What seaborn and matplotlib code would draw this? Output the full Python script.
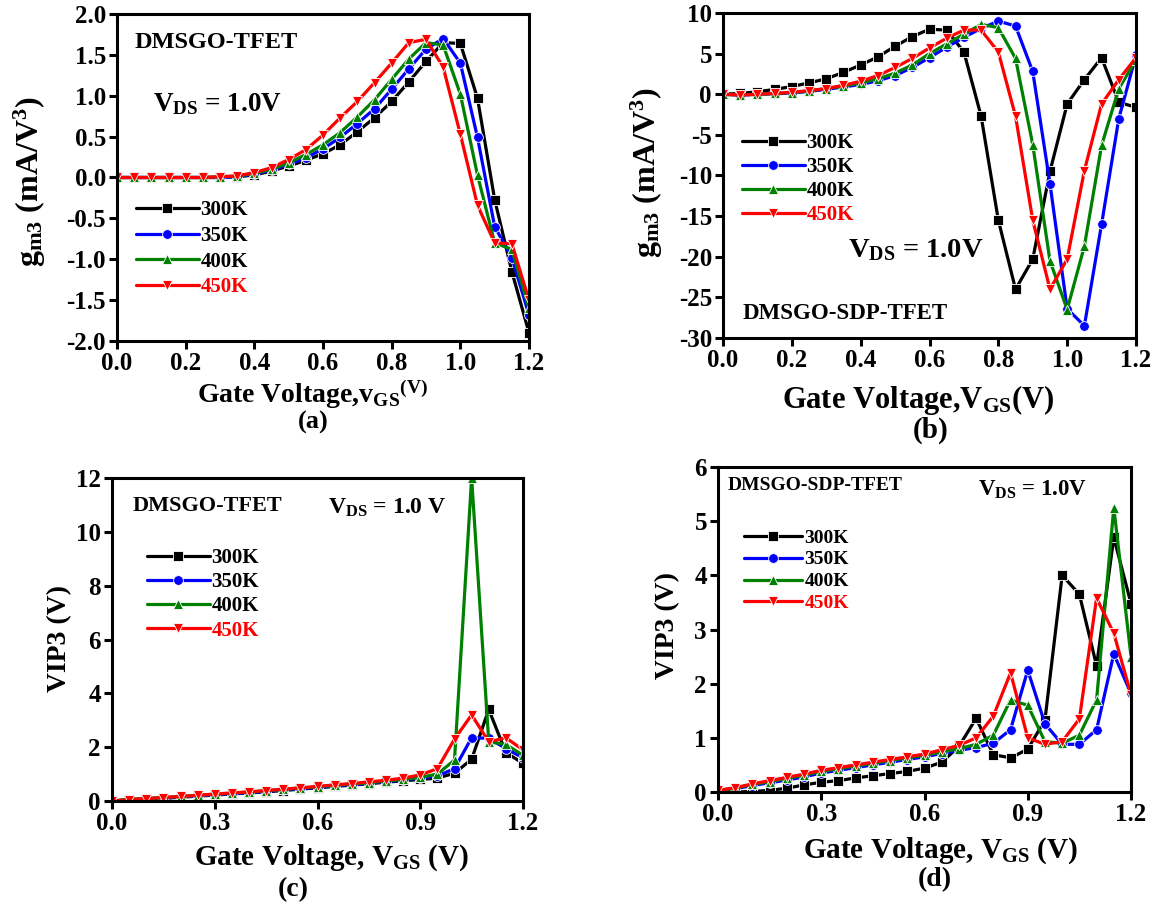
import numpy as np
import pandas as pd
import matplotlib
matplotlib.use("Agg")
import matplotlib.pyplot as plt
import seaborn as sns

# ---------------- data ----------------
vgs = [0.00, 0.05, 0.10, 0.15, 0.20, 0.25, 0.30, 0.35, 0.40, 0.45, 0.50, 0.55, 0.60,
       0.65, 0.70, 0.75, 0.80, 0.85, 0.90, 0.95, 1.00, 1.05, 1.10, 1.15, 1.20]
temps = ["300K", "350K", "400K", "450K"]

# (a) gm3 DMSGO-TFET
gm3_a_300 = [0, 0, 0, 0, 0, 0, 0.00, 0.01, 0.03, 0.08, 0.14, 0.21, 0.29, 0.40, 0.56, 0.73, 0.93,
             1.17, 1.42, 1.65, 1.64, 0.97, -0.27, -1.15, -1.90]
gm3_a_350 = [0, 0, 0, 0, 0, 0, 0.00, 0.01, 0.04, 0.09, 0.16, 0.24, 0.35, 0.49, 0.66, 0.84, 1.08,
             1.33, 1.57, 1.70, 1.40, 0.49, -0.60, -0.98, -1.68]
gm3_a_400 = [0, 0, 0, 0, 0, 0, 0.01, 0.015, 0.05, 0.10, 0.18, 0.28, 0.40, 0.55, 0.74, 0.95, 1.20,
             1.45, 1.65, 1.62, 1.02, 0.03, -0.80, -0.88, -1.60]
gm3_a_450 = [0, 0, 0, 0, 0, 0, 0.01, 0.02, 0.06, 0.12, 0.22, 0.34, 0.52, 0.73, 0.93, 1.16, 1.40,
             1.65, 1.69, 1.35, 0.53, -0.34, -0.80, -0.81, -1.50]

# (b) gm3 DMSGO-SDP-TFET
gm3_b_300 = [0, 0.1, 0.3, 0.6, 0.95, 1.4, 1.9, 2.7, 3.6, 4.6, 5.9, 7.1, 8.0, 7.9, 5.2, -2.7,
             -15.5, -24.0, -20.3, -9.5, -1.2, 1.8, 4.5, -1.0, -1.6]
gm3_b_350 = [0, -0.1, 0.0, 0.05, 0.15, 0.35, 0.6, 0.9, 1.2, 1.65, 2.3, 3.3, 4.5, 5.8, 7.0, 8.1,
             9.0, 8.4, 2.8, -11.0, -26.4, -28.5, -16.0, -3.0, 4.8]
gm3_b_400 = [0, -0.1, 0.0, 0.1, 0.2, 0.4, 0.7, 1.0, 1.4, 1.9, 2.6, 3.6, 5.0, 6.2, 7.4, 8.6,
             8.2, 4.4, -6.2, -20.5, -26.5, -18.7, -6.3, 0.7, 4.2]
gm3_b_450 = [0, -0.1, 0.0, 0.1, 0.25, 0.45, 0.7, 1.1, 1.6, 2.3, 3.3, 4.4, 5.7, 6.9, 7.9, 7.9,
             5.2, -2.7, -15.5, -24.0, -20.3, -9.4, -1.2, 1.8, 4.5]

# (c) VIP3 DMSGO-TFET
vip3_c_300 = [0.0, 0.04, 0.07, 0.10, 0.14, 0.18, 0.22, 0.26, 0.30, 0.34, 0.39, 0.44, 0.49, 0.54,
              0.59, 0.64, 0.70, 0.75, 0.80, 0.85, 1.03, 1.55, 3.40, 1.80, 1.40]
vip3_c_350 = [0.0, 0.05, 0.08, 0.11, 0.15, 0.19, 0.23, 0.27, 0.31, 0.36, 0.41, 0.46, 0.51, 0.56,
              0.61, 0.66, 0.72, 0.78, 0.85, 0.93, 1.20, 2.35, 2.33, 1.95, 1.60]
vip3_c_400 = [0.0, 0.06, 0.09, 0.13, 0.17, 0.21, 0.25, 0.29, 0.33, 0.38, 0.43, 0.48, 0.53, 0.58,
              0.63, 0.68, 0.74, 0.80, 0.88, 1.00, 1.52, 12.0, 2.20, 2.10, 1.70]
vip3_c_450 = [0.0, 0.05, 0.09, 0.13, 0.17, 0.21, 0.26, 0.30, 0.34, 0.39, 0.44, 0.49, 0.54, 0.60,
              0.65, 0.71, 0.77, 0.85, 0.97, 1.20, 2.30, 3.20, 2.20, 2.35, 1.90]

# (d) VIP3 DMSGO-SDP-TFET
vip3_d_300 = [0.0, 0.0, 0.01, 0.03, 0.07, 0.13, 0.18, 0.21, 0.26, 0.30, 0.34, 0.38, 0.44, 0.55,
              0.84, 1.36, 0.69, 0.63, 0.79, 1.33, 4.00, 3.65, 2.33, 4.70, 3.48]
vip3_d_350 = [0.03, 0.06, 0.12, 0.17, 0.22, 0.28, 0.35, 0.40, 0.45, 0.50, 0.55, 0.60, 0.65, 0.71,
              0.77, 0.82, 0.90, 1.15, 2.25, 1.26, 0.88, 0.88, 1.15, 2.55, 1.82]
vip3_d_400 = [0.03, 0.07, 0.14, 0.19, 0.25, 0.31, 0.38, 0.43, 0.48, 0.53, 0.58, 0.63, 0.68, 0.74,
              0.80, 0.88, 1.05, 1.70, 1.60, 0.93, 0.90, 1.05, 1.70, 5.25, 2.50]
vip3_d_450 = [0.03, 0.08, 0.15, 0.21, 0.27, 0.33, 0.40, 0.45, 0.50, 0.55, 0.60, 0.65, 0.70, 0.78,
              0.86, 1.00, 1.40, 2.20, 1.00, 0.88, 0.93, 1.35, 3.58, 2.93, 1.80]

# ---------------- style ----------------
sns.set_theme(style="white")
plt.rcParams["font.family"] = ["Liberation Serif", "DejaVu Serif"]
plt.rcParams["font.weight"] = "bold"
plt.rcParams["axes.labelweight"] = "bold"
plt.rcParams["mathtext.fontset"] = "custom"
plt.rcParams["mathtext.rm"] = "Liberation Serif:bold"
plt.rcParams["mathtext.it"] = "Liberation Serif:bold"
plt.rcParams["mathtext.bf"] = "Liberation Serif:bold"

palette = {"300K": "#000000", "350K": "#0000FF", "400K": "#008000", "450K": "#FF0000"}
markers = {"300K": "s", "350K": "o", "400K": "^", "450K": "v"}
label_colors = ["black", "black", "black", "red"]

W, H = 1158, 905
fig = plt.figure(figsize=(W / 100, H / 100), dpi=100)


def add_ax(left, top, right, bottom):
    return fig.add_axes([left / W, 1 - bottom / H, (right - left) / W, (bottom - top) / H])


def make_df(series):
    rows = []
    for t, vals in zip(temps, series):
        for x, y in zip(vgs, vals):
            rows.append({"VGS": x, "val": y, "T": t})
    return pd.DataFrame(rows)


def draw(ax, series, ylim, yticks, yfmt, xticks, xfmt):
    df = make_df(series)
    sns.lineplot(data=df, x="VGS", y="val", hue="T", style="T", markers=markers,
                 dashes=False, palette=palette, linewidth=2.3, markersize=7,
                 markeredgewidth=0.6, ax=ax, legend=True, sort=False)
    ax.set_xlim(0, 1.2)
    ax.set_ylim(*ylim)
    ax.set_yticks(yticks)
    ax.set_yticklabels([yfmt.format(v) for v in yticks])
    ax.set_xticks(xticks)
    ax.set_xticklabels([xfmt.format(v) for v in xticks])
    ax.set_xlabel("")
    ax.set_ylabel("")
    for s in ax.spines.values():
        s.set_linewidth(2.2)
        s.set_color("black")
    ax.tick_params(axis="both", direction="out", length=6, width=2.2, labelsize=18,
                   pad=2, bottom=True, left=True, top=False, right=False, colors="black")
    for lab in ax.get_xticklabels() + ax.get_yticklabels():
        lab.set_fontweight("bold")


def place_legend(ax, x_px, y_px, spacing, size=15):
    handles, labels = ax.get_legend_handles_labels()
    ax.legend(handles, labels, loc="upper left",
              bbox_to_anchor=(x_px / W, 1 - y_px / H), bbox_transform=fig.transFigure,
              frameon=False, handlelength=3.0, handletextpad=0.1, borderpad=0,
              borderaxespad=0, labelspacing=spacing,
              prop={"family": "Liberation Serif", "weight": "bold", "size": size},
              labelcolor=label_colors)


def ftext(x, y, s, size, ha="left", va="center", rot=0, color="black"):
    fig.text(x / W, 1 - y / H, s, fontsize=size, ha=ha, va=va, rotation=rot,
             fontweight="bold", color=color, family="Liberation Serif")


# (a)
ax_a = add_ax(117, 14, 529, 341)
draw(ax_a, [gm3_a_300, gm3_a_350, gm3_a_400, gm3_a_450], (-2.0, 2.0),
     [-2.0, -1.5, -1.0, -0.5, 0.0, 0.5, 1.0, 1.5, 2.0], "{:.1f}",
     [0.0, 0.2, 0.4, 0.6, 0.8, 1.0, 1.2], "{:.1f}")
place_legend(ax_a, 136, 200, 0.28)
ftext(135, 43, "DMSGO-TFET", 17.5)
ftext(153, 104, r"V$_{\rm DS}$ = 1.0V", 19.5)
ftext(312, 394, r"Gate Voltage,v$_{\rm GS}$$^{\rm (V)}$", 20, ha="center")
ftext(313, 422, "(a)", 19, ha="center")
ftext(30, 182, r"g$_{\rm m3}$ (mA/V$^{3}$)", 23, ha="center", rot=90)

# (b)
ax_b = add_ax(723, 13, 1136, 338)
draw(ax_b, [gm3_b_300, gm3_b_350, gm3_b_400, gm3_b_450], (-30, 10),
     [-30, -25, -20, -15, -10, -5, 0, 5, 10], "{:d}",
     [0.0, 0.2, 0.4, 0.6, 0.8, 1.0, 1.2], "{:.1f}")
place_legend(ax_b, 742, 133, 0.2)
ftext(743, 313, "DMSGO-SDP-TFET", 16.5)
ftext(848, 250, r"V$_{\rm DS}$ = 1.0V", 20.5)
ftext(918, 400, r"Gate Voltage,V$_{\rm GS}$(V)", 22, ha="center")
ftext(931, 430, "(b)", 21, ha="center")
ftext(647, 173, r"g$_{\rm m3}$ (mA/V$^{3}$)", 23, ha="center", rot=90)

# (c)
ax_c = add_ax(112, 478, 523, 801)
draw(ax_c, [vip3_c_300, vip3_c_350, vip3_c_400, vip3_c_450], (0, 12),
     [0, 2, 4, 6, 8, 10, 12], "{:d}",
     [0.0, 0.3, 0.6, 0.9, 1.2], "{:.1f}")
place_legend(ax_c, 147, 548, 0.2)
ftext(133, 506, "DMSGO-TFET", 16)
ftext(328, 508, r"V$_{\rm DS}$ = 1.0 V", 17)
ftext(331, 858, r"Gate Voltage, V$_{\rm GS}$ (V)", 21, ha="center")
ftext(293, 890, "(c)", 20, ha="center")
ftext(60, 639, "VIP3 (V)", 20, ha="center", rot=90)

# (d)
ax_d = add_ax(718, 467, 1131, 792)
draw(ax_d, [vip3_d_300, vip3_d_350, vip3_d_400, vip3_d_450], (0, 6),
     [0, 1, 2, 3, 4, 5, 6], "{:d}",
     [0.0, 0.3, 0.6, 0.9, 1.2], "{:.1f}")
place_legend(ax_d, 744, 529, 0.22, size=14)
ftext(728, 485, "DMSGO-SDP-TFET", 14)
ftext(978, 490, r"V$_{\rm DS}$ = 1.0V", 16.5)
ftext(940, 851, r"Gate Voltage, V$_{\rm GS}$ (V)", 21, ha="center")
ftext(935, 880, "(d)", 20, ha="center")
ftext(668, 625, "VIP3 (V)", 20, ha="center", rot=90)

fig.savefig("out.png", dpi=100, facecolor="white")
